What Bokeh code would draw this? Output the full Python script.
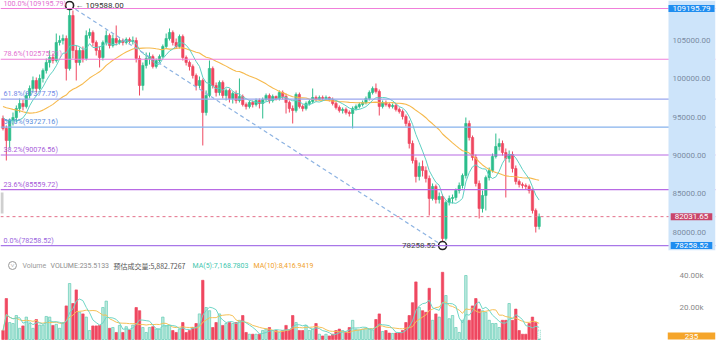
import numpy as np
import pandas as pd
from bokeh.plotting import figure
from bokeh.models import Range1d, Span, Label, ColumnDataSource, BoxAnnotation
from bokeh.layouts import column
from bokeh.embed import file_html
from bokeh.resources import INLINE

# ---------------- data ----------------
first_open = 94840

closes = [93540, 91970, 94580, 94970, 96150, 96800, 96410, 97840, 98760, 99800,
          98760, 100060, 101100, 102150, 102800, 102410, 104760, 105020, 105280, 101370,
          108280, 103720, 102150, 103720, 102670, 105670, 106060, 104760, 103720, 102800,
          104760, 105670, 104370, 105280, 104760, 105020, 104760, 105150, 104890, 105020,
          102670, 99150, 101760, 102670, 102930, 101630, 102410, 102930, 104240, 105280,
          106060, 104760, 104240, 105540, 102800, 102150, 101630, 100450, 99150, 99800,
          95620, 97840, 101370, 99150, 98230, 99540, 97840, 98500, 97450, 98100,
          97190, 97710, 96670, 96410, 96930, 96670, 97190, 96800, 97320, 97840,
          97190, 97710, 97450, 98230, 97710, 96930, 96150, 95890, 97970, 96410,
          96150, 96800, 97060, 97580, 97320, 97580, 97450, 97580, 97320, 96800,
          96280, 95890, 96020, 95620, 95490, 96150, 96410, 96670, 96930, 97450,
          98230, 98760, 98370, 96410, 96930, 96670, 96410, 96540, 96020, 95760,
          95100, 94190, 91580, 89360, 87270, 88580, 88060, 87010, 84400, 85970,
          84270, 84660, 79180, 83880, 84400, 84530, 85450, 86100, 87400, 94190,
          92360, 89750, 86360, 83100, 84790, 87140, 88060, 89880, 91190, 91580,
          90400, 89620, 90140, 88320, 86620, 86230, 86100, 85970, 85450, 82840,
          80750, 82031.65]

highs = [95230, 93930, 94840, 95620, 96540, 97450, 97320, 98230, 99150, 100320,
         100190, 100580, 101370, 102670, 103720, 103320, 105930, 105670, 105800, 105670,
         109588, 108940, 104370, 104110, 104240, 106330, 106590, 106330, 105020, 104240,
         105020, 106330, 105930, 105800, 106980, 105280, 105280, 105410, 105410, 105540,
         105410, 103060, 102150, 103450, 103450, 103190, 102670, 103190, 104500, 105930,
         106590, 106330, 105280, 105800, 105800, 103060, 102410, 101890, 100710, 100320,
         100060, 98500, 102410, 101630, 99540, 99800, 99800, 98760, 98760, 98370,
         98500, 100060, 97970, 96930, 97190, 97190, 97450, 97450, 97580, 98100,
         98100, 97970, 97840, 98500, 98500, 98100, 97190, 96540, 98230, 98230,
         96670, 97060, 97320, 98760, 97840, 97840, 97840, 97840, 97710, 97580,
         97060, 96540, 96280, 96280, 95890, 96410, 96670, 96930, 97190, 97710,
         98500, 99020, 99410, 98630, 97190, 97190, 96930, 96800, 96800, 96280,
         96020, 95360, 94580, 91970, 89750, 89100, 89360, 88580, 87400, 86360,
         86230, 85180, 84920, 84140, 84790, 84920, 85710, 86490, 87660, 94970,
         94580, 92620, 90140, 86750, 85450, 87400, 88450, 90270, 92880, 92230,
         91970, 90930, 90670, 90540, 88710, 86880, 86490, 86360, 86230, 85710,
         83100, 82440]

lows = [93280, 89360, 90930, 93930, 94320, 95620, 95890, 96150, 97450, 98230,
        98230, 98500, 99540, 100710, 101500, 102020, 102150, 104370, 104500, 99800,
        101100, 102670, 99800, 101760, 102150, 102410, 105280, 104240, 103060, 101500,
        102410, 104370, 103980, 104110, 104370, 104500, 104370, 104500, 104630, 104500,
        102150, 97840, 98500, 101370, 101890, 101370, 101370, 102150, 102670, 103980,
        105020, 104370, 103980, 103980, 102410, 101760, 101100, 100060, 98500, 98760,
        91320, 95230, 97580, 98760, 97710, 97840, 97450, 97190, 96930, 96800,
        96800, 96930, 96410, 96020, 96150, 96280, 96410, 96150, 94840, 97060,
        96800, 96930, 97190, 97190, 97320, 95490, 95620, 94190, 95620, 96150,
        95760, 95890, 96540, 96800, 97060, 97190, 97190, 97190, 97060, 96540,
        96020, 95620, 95490, 95360, 95100, 93540, 95890, 96150, 96410, 96670,
        97190, 97970, 98100, 95230, 96150, 96410, 96150, 96150, 95760, 95490,
        94710, 93800, 90930, 88970, 86490, 86750, 87270, 86490, 82180, 84140,
        83750, 83750, 78258.52, 78920, 83490, 83750, 84140, 85050, 85710, 87010,
        91970, 89360, 85970, 81790, 82570, 82840, 86750, 87790, 89620, 90670,
        90010, 84530, 89100, 87790, 86230, 85840, 85710, 85580, 85050, 82440,
        79960, 80360]

volumes = [5600, 25600, 10600, 10000, 15000, 7000, 8500, 14000, 10000, 7000,
           12500, 9000, 9000, 14400, 14000, 8800, 9500, 7000, 10600, 21000,
           35000, 22500, 31000, 17000, 16000, 14000, 5600, 8500, 8500, 8800,
           20000, 24000, 7000, 7500, 4400, 8800, 4400, 8000, 6000, 9000,
           20000, 18000, 7500, 4400, 7500, 8000, 6500, 6500, 14000, 8500,
           9000, 5600, 4400, 6500, 10600, 4400, 5600, 7500, 10000, 16000,
           37000, 20000, 18000, 7500, 10600, 16000, 8800, 10000, 10600, 10000,
           10600, 12000, 15000, 4400, 3300, 3300, 3300, 3300, 5600, 6500,
           7500, 5600, 5600, 4400, 5600, 8800, 6000, 15000, 10600, 5600,
           5600, 8800, 5600, 6500, 10000, 3300, 2200, 3300, 2200, 3300,
           5600, 6500, 5600, 4400, 7500, 12000, 6500, 6000, 6500, 7000,
           6500, 6000, 12500, 16000, 5000, 5600, 4000, 3800, 4000, 4200,
           5600, 10600, 15000, 23000, 36000, 20000, 18000, 17000, 32000, 12000,
           16000, 14000, 42000, 27500, 13000, 15000, 7500, 4400, 12000, 40000,
           12000, 21000, 25600, 19000, 18000, 17000, 12000, 10000, 10000, 7500,
           12000, 12000, 22500, 12000, 19000, 5600, 3300, 3300, 10000, 14000,
           10600, 235.5133]

# closes before the visible window (only seed the moving averages)
prior_closes = [97000, 97600, 98200, 98800, 99400, 100500, 101200, 100700, 99000, 96900,
                96300, 95800, 94900, 95300, 94600, 94200, 95000, 95900, 94800, 94400,
                95100, 96000, 95700, 94900, 94500, 95200, 96300, 95800, 94700]

fib_ratios = ["100.0%", "78.6%", "61.8%", "50.0%", "38.2%", "23.6%", "0.0%"]
fib_prices = [109195.79, 102575.21, 97377.75, 93727.16, 90076.56, 85559.72, 78258.52]
fib_line_colors = ["#f07fda", "#f07fda", "#9aa6ee", "#86b2ec", "#b86ae4", "#b86ae4", "#a877e8"]
fib_text_colors = ["#e270cf", "#e270cf", "#6f88e6", "#5b8edc", "#a75cd9", "#a75cd9", "#9a66de"]

swing_high = 109588.00
swing_low = 78258.52
last_price = 82031.65
price_ticks = [80000, 85000, 90000, 95000, 100000, 105000]
vol_ticks = [20000, 40000]

vol_now = 235.5133
vol_est = 5882.7267
vol_ma5_now = 7168.7803
vol_ma10_now = 8416.9419

# ---------------- derived ----------------
N = len(closes)
idx = np.arange(N)
c = np.array(closes, dtype=float)
o = np.array([first_open] + closes[:-1], dtype=float)
h = np.array(highs, dtype=float)
l = np.array(lows, dtype=float)
up = c >= o
UP, DN = "#2cbd8c", "#ef4760"
col = np.where(up, UP, DN)

src = ColumnDataSource(dict(x=idx, h=h, l=l, top=np.maximum(o, c), bot=np.minimum(o, c), col=col))

allc = pd.Series(list(prior_closes) + list(closes), dtype=float)
ma7 = allc.rolling(7).mean().to_numpy()[-N:]
ma30 = allc.rolling(30).mean().to_numpy()[-N:]

FONT = "Roboto"
W = 719
PLOT_W = 668          # width of the chart area, price scale to its right
XR = Range1d(-0.75, 215.17)


def base_fig(hgt, yr):
    f = figure(frame_width=W, frame_height=hgt, x_range=XR, y_range=yr,
               x_axis_location=None, y_axis_location=None, toolbar_location=None,
               output_backend="svg", min_border=0, outline_line_color=None,
               background_fill_color="white", border_fill_color="white")
    f.grid.visible = False
    return f


def scale_label(fig, yv, text, color, x=672):
    fig.add_layout(Label(x=x, x_units="screen", y=yv, text=text, text_baseline="middle",
                         text_font_size="8px", text_color=color, text_font=FONT))


def tag(fig, yv, text, bg, pad_lr=4, yoff=0):
    fig.add_layout(Label(x=691, x_units="screen", y=yv, y_offset=yoff, text=text,
                         text_align="center", text_baseline="middle", text_font_size="8px",
                         text_color="white", text_font=FONT, background_fill_color=bg,
                         padding=dict(left=pad_lr, right=pad_lr, top=1, bottom=1)))


# ---------------- price pane ----------------
p = base_fig(256, Range1d(76832, 110240))

for r, pr, lc, tc in zip(fib_ratios, fib_prices, fib_line_colors, fib_text_colors):
    p.add_layout(Span(location=pr, dimension="width", line_color=lc, line_width=1.2))
    p.add_layout(Label(x=3, x_units="screen", y=pr, text=f"{r}({pr:.2f})", text_baseline="bottom",
                       y_offset=1, text_font_size="7.2px", text_color=tc, text_font=FONT))

p.add_layout(Span(location=last_price, dimension="width", line_color="#e4708a",
                  line_width=1, line_dash="3 3"))

p.segment("x", "h", "x", "l", source=src, line_color="col", line_width=1)
p.vbar(x="x", width=0.72, top="top", bottom="bot", source=src, fill_color="col",
       line_color="col", line_width=0.6)

p.line(idx, ma30, line_color="#f6b94c", line_width=1.1)
p.line(idx, ma7, line_color="#5dcfc2", line_width=1.0)

hi_i = int(np.argmax(h))
lo_i = int(np.argmin(l))
p.line([hi_i, lo_i], [swing_high, swing_low], line_color="#8db3e2", line_width=1.2, line_dash="4 3")
p.scatter([hi_i, lo_i], [swing_high, swing_low], size=8, fill_color="white",
          line_color="#222222", line_width=1.6)
p.add_layout(Label(x=hi_i, y=swing_high, x_offset=6, text=f"← {swing_high:.2f}",
                   text_baseline="middle", text_font_size="8px", text_color="#333333", text_font=FONT))
p.add_layout(Label(x=lo_i, y=swing_low, x_offset=-7, text=f"{swing_low:.2f}", text_align="right",
                   text_baseline="middle", text_font_size="8px", text_color="#444444", text_font=FONT))

# left collapse handle
p.add_layout(BoxAnnotation(left=0, right=3, left_units="screen", right_units="screen",
                           bottom=43, top=64, bottom_units="screen", top_units="screen",
                           fill_color="#cfcfcf", fill_alpha=1, line_color=None))

# price scale strip (light blue) on the right
p.add_layout(BoxAnnotation(left=PLOT_W, right=715, left_units="screen", right_units="screen",
                           bottom=6, top=256, bottom_units="screen", top_units="screen",
                           fill_color="#cde4fa", fill_alpha=1, line_color=None))
p.add_layout(BoxAnnotation(left=715, right=W, left_units="screen", right_units="screen",
                           bottom=0, top=256, bottom_units="screen", top_units="screen",
                           fill_color="white", fill_alpha=1, line_color=None))
p.add_layout(BoxAnnotation(left=PLOT_W, right=715, left_units="screen", right_units="screen",
                           bottom=0, top=6, bottom_units="screen", top_units="screen",
                           fill_color="white", fill_alpha=1, line_color=None))

for t in price_ticks:
    scale_label(p, t, f"{t:.2f}", "#7b8ca3")

tag(p, fib_prices[0], f"{fib_prices[0]:.2f}", "#1f8df0")
tag(p, last_price, f"{last_price:.2f}", "#c9456a")
tag(p, fib_prices[-1], f"{fib_prices[-1]:.2f}", "#1f8df0")

# ---------------- volume pane ----------------
v = np.array(volumes, dtype=float)
vfill = np.where(up, "#bfeadf", "#ef4760")
vline = np.where(up, "#63cdb6", "#ef4760")
vsrc = ColumnDataSource(dict(x=idx, v=v, f=vfill, lc=vline))
vma5 = pd.Series(v).rolling(5, min_periods=1).mean().to_numpy()
vma10 = pd.Series(v).rolling(10, min_periods=1).mean().to_numpy()

pv = base_fig(86, Range1d(-1875, 51875))

pv.vbar(x="x", top="v", bottom=0, width=0.72, source=vsrc, fill_color="f", line_color="lc", line_width=0.7)
pv.vbar(x=[N - 1], top=[vol_est], bottom=0, width=0.72, fill_color=None, line_color="#63cdb6",
        line_width=0.8, line_dash="1 1")
pv.line(idx, vma10, line_color="#f5c057", line_width=1)
pv.line(idx, vma5, line_color="#6fd6c6", line_width=1)

for t in vol_ticks:
    scale_label(pv, t, f"{t / 1000:.2f}k", "#8a8a8a", x=679)

hy = 77
pv.add_layout(Label(x=12, y=hy, x_units="screen", y_units="screen", text="˅", text_align="center",
                    text_baseline="middle", text_font_size="7px", text_color="#888888",
                    border_line_color="#999999", border_radius=5,
                    padding=dict(left=2, right=2, top=0, bottom=0), text_font=FONT))
header = [(22, "Volume", "#9a9a9a", FONT),
          (50, f"VOLUME:{vol_now:.4f}", "#8c8c8c", FONT),
          (113, f"预估成交量:{vol_est:,.4f}", "#555555", "Noto Sans CJK SC"),
          (192, f"MA(5):{vol_ma5_now:,.4f}", "#3fc6ae", FONT),
          (253, f"MA(10):{vol_ma10_now:,.4f}", "#f0a22c", FONT)]
for xx, t, cc, ff in header:
    pv.add_layout(Label(x=xx, y=hy, x_units="screen", y_units="screen", text=t,
                        text_baseline="middle", text_font_size="7px", text_color=cc, text_font=ff))

tag(pv, vol_now, str(int(vol_now)), "#f5a52a", pad_lr=17, yoff=3)

layout = column(p, pv, spacing=0)
open("out.html", "w").write(file_html(layout, INLINE))
